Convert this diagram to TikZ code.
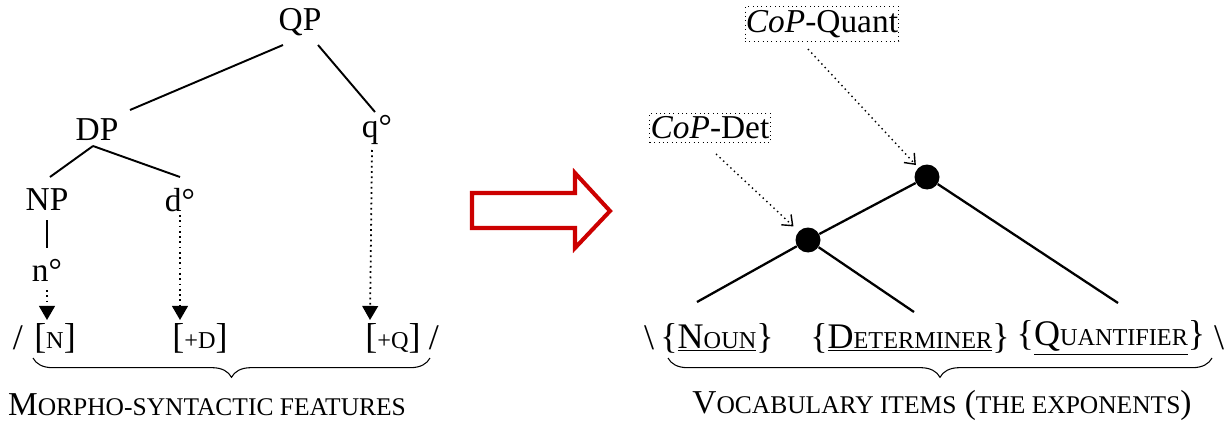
\documentclass[tikz,border=0pt]{standalone}
\usepackage{fontspec}
\setmainfont{Liberation Serif}
\usetikzlibrary{calc,arrows.meta}
\usetikzlibrary{positioning,decorations.pathreplacing}

\definecolor{arrowred}{RGB}{204,0,0}
\newcommand{\smc}[1]{{\fontsize{14.5}{16}\selectfont #1}}
\newcommand{\smr}[1]{{\fontsize{13.8}{16}\selectfont #1}}

\begin{document}
\begin{tikzpicture}[x=0.02cm,y=-0.02cm,
  every node/.style={font=\fontsize{19}{22}\selectfont, inner sep=1pt},
  row/.style={font=\fontsize{20.5}{24}\selectfont},
  tree/.style={line width=1.1pt},
  feat/.style={dotted, line width=1pt, -{Triangle[width=9pt,length=8pt]}},
  point/.style={dotted, line width=0.8pt, -{Straight Barb[width=8pt,length=5pt]}},
  cop/.style={draw, dotted, line width=0.5pt, inner xsep=0.5pt, inner ysep=2pt},
  dot/.style={circle, fill, inner sep=0pt, minimum size=0.5cm},
  brc/.style={decorate, decoration={brace, mirror, amplitude=11pt}, line width=0.6pt}]
\useasboundingbox (0,0) rectangle (1225,423);

% syntax tree
\node (qp) at (300,22) {QP};
\node (dp) at (97,130) {DP};
\node (q) at (377,130) {q°};
\node (np) at (47,200) {NP};
\node (d) at (180,200) {d°};
\node (n) at (47,270) {n°};

\draw[tree] ($(qp)+(-17,23)$) -- ($(dp)+(33,-20)$);
\draw[tree] ($(qp)+(18,23)$) -- ($(q)+(-2,-18)$);
\draw[tree] ($(dp)+(-4,16)$) -- ($(np)+(3,-23)$);
\draw[tree] ($(dp)+(-4,16)$) -- ($(d)+(0,-23)$);
\draw[line width=0.8pt] ($(np)+(0,20)$) -- ($(n)+(0,-22)$);

% features
\node[row] (ls) at (18,338) {/};
\node[row] (fn) at (55,338) {[\smr{N}]};
\node[row] (fd) at (200,338) {[\smr{+D}]};
\node[row] (fq) at (393,338) {[\smr{+Q}]};
\node[row] (rs) at (434,338) {/};

\draw[feat] ($(n)+(0,20)$) -- ($(fn)+(-8,-18)$);
\draw[feat] ($(d)+(0,15)$) -- ($(fd)+(-20,-18)$);
\draw[feat] ($(q)+(-5,20)$) -- ($(fq)+(-23,-18)$);

\draw[brc] (33,358) -- (430,358);
\node (mf) at (207,405) {M\smc{ORPHO-SYNTACTIC FEATURES}};

% big arrow
\draw[arrowred, line width=2.3pt, miter limit=10]
  (472,193) -- (575,193) -- (575,173) -- (610,211) -- (575,248) -- (575,228) -- (472,228) -- cycle;

% exponents
\node[dot] (qdot) at (927,177) {};
\node[dot] (ddot) at (808,240) {};
\coordinate (e1) at (697,302);
\coordinate (e2) at (914,312);
\coordinate (e3) at (1118,303);

\draw[line width=1.3pt] (qdot) -- (ddot);
\draw[line width=1.3pt] (qdot) -- (e3);
\draw[line width=1.3pt] (ddot) -- (e1);
\draw[line width=1.3pt] (ddot) -- (e2);

\node[cop] (cq) at (822,24) {\textit{CoP}-Quant};
\node[cop] (cd) at (710,128) {\textit{CoP}-Det};

\draw[point, shorten >=2pt] ($(cq)+(-14,25)$) -- (qdot);
\draw[point, shorten >=4pt] ($(cd)+(6,26)$) -- (ddot);

\node[row] (lb) at (649,338) {\textbackslash};
\node[row] (vn) at (717,338) {\{\underline{N\smr{OUN}}\}};
\node[row] (vd) at (910,338) {\{\underline{D\smr{ETERMINER}}\}};
\node[row] (vq) at (1111,338) {\{\underline{Q\smr{UANTIFIER}}\}};
\node[row] (rb) at (1219,338) {\textbackslash};

\draw[brc] (668,358) -- (1212,358);
\node (vi) at (942,405) {V\smc{OCABULARY ITEMS} (\smc{THE EXPONENTS})};
\end{tikzpicture}
\end{document}
